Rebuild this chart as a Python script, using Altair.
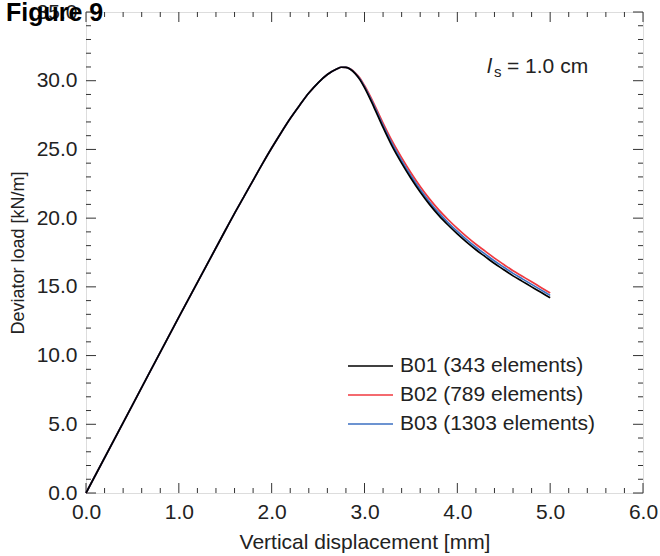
import altair as alt
import pandas as pd

# ---- data ----
x_disp = [0.0, 0.5, 1.0, 1.5, 1.6, 1.7, 1.8, 1.9, 2.0, 2.1, 2.2, 2.3, 2.4, 2.5, 2.6,
          2.7, 2.75, 2.8, 2.85, 2.9, 2.95, 3.0, 3.1, 3.2, 3.3, 3.4, 3.5, 3.6, 3.7, 3.8, 3.9, 4.0,
          4.1, 4.2, 4.3, 4.4, 4.5, 4.6, 4.7, 4.8, 4.9, 5.0]
b01 = [0.0, 6.4, 12.8, 19.1, 20.35, 21.55, 22.75, 23.95, 25.1, 26.2, 27.25, 28.2, 29.1,
       29.85, 30.45, 30.85, 30.98, 30.97, 30.82, 30.52, 30.08, 29.5, 28.1, 26.6, 25.2, 24.0, 22.9, 21.9,
       21.0, 20.2, 19.5, 18.85, 18.25, 17.7, 17.2, 16.7, 16.25, 15.8, 15.4, 15.0, 14.6, 14.2]
b02 = [0.0, 6.4, 12.8, 19.1, 20.35, 21.55, 22.75, 23.95, 25.1, 26.2, 27.25, 28.2, 29.1,
       29.85, 30.45, 30.85, 30.98, 30.97, 30.85, 30.58, 30.2, 29.65, 28.35, 26.92, 25.58, 24.4, 23.3, 22.3,
       21.4, 20.6, 19.9, 19.25, 18.65, 18.1, 17.6, 17.09, 16.63, 16.17, 15.77, 15.37, 14.96, 14.56]
b03 = [0.0, 6.4, 12.8, 19.1, 20.35, 21.55, 22.75, 23.95, 25.1, 26.2, 27.25, 28.2, 29.1,
       29.85, 30.45, 30.85, 30.98, 30.97, 30.83, 30.54, 30.13, 29.57, 28.22, 26.75, 25.38, 24.18, 23.08, 22.08,
       21.18, 20.38, 19.68, 19.03, 18.43, 17.88, 17.38, 16.88, 16.43, 15.98, 15.58, 15.18, 14.78, 14.38]

series_names = ["B01 (343 elements)", "B02 (789 elements)", "B03 (1303 elements)"]
series_colors = ["#000000", "#f0393f", "#3b6fc2"]

x_major = [0, 1, 2, 3, 4, 5, 6]
x_minor = [0.2, 0.4, 0.6, 0.8, 1.2, 1.4, 1.6, 1.8, 2.2, 2.4, 2.6, 2.8,
           3.2, 3.4, 3.6, 3.8, 4.2, 4.4, 4.6, 4.8, 5.2, 5.4, 5.6, 5.8]
y_major = [0, 5, 10, 15, 20, 25, 30, 35]
y_minor = [1, 2, 3, 4, 6, 7, 8, 9, 11, 12, 13, 14, 16, 17, 18, 19,
           21, 22, 23, 24, 26, 27, 28, 29, 31, 32, 33, 34]

W, H = 557, 481
FONT = "Liberation Sans"
AX = "#333333"
TXT = "#222222"

xs = alt.Scale(domain=[0, 6], nice=False, zero=False)
ys = alt.Scale(domain=[0, 35], nice=False, zero=False)
cs = alt.Scale(domain=series_names, range=series_colors)

xaxis = alt.Axis(values=x_major, format=".1f", title="Vertical displacement [mm]",
                 grid=False, domain=False, ticks=False, tickSize=0, labelPadding=8,
                 labelFlush=False, labelOverlap=False,
                 labelFontSize=21, labelFont=FONT, labelColor=TXT,
                 titleFontSize=21, titleFont=FONT, titleFontWeight="normal",
                 titleColor=TXT, titlePadding=9)
yaxis = alt.Axis(values=y_major, format=".1f", title="Deviator load [kN/m]",
                 grid=False, domain=False, ticks=False, tickSize=0, labelPadding=9,
                 labelFlush=False, labelOverlap=False,
                 labelFontSize=21, labelFont=FONT, labelColor=TXT,
                 titleFontSize=18, titleFont=FONT, titleFontWeight="normal",
                 titleColor=TXT, titlePadding=9)


def line_layer(vals, name):
    df = pd.DataFrame({"x": x_disp, "y": vals, "series": name})
    return alt.Chart(df).mark_line(interpolate="monotone", strokeWidth=1.7).encode(
        x=alt.X("x:Q", scale=xs, axis=xaxis),
        y=alt.Y("y:Q", scale=ys, axis=yaxis),
        color=alt.Color("series:N", scale=cs, legend=None),
    )


lines = [line_layer(b02, series_names[1]),
         line_layer(b03, series_names[2]),
         line_layer(b01, series_names[0])]


def xticks(vals, y0, y1):
    df = pd.DataFrame({"x": vals})
    return alt.Chart(df).mark_rule(color=AX, strokeWidth=1).encode(
        x=alt.X("x:Q", scale=xs, axis=xaxis), y=alt.value(y0), y2=alt.value(y1))


def yticks(vals, x0, x1):
    df = pd.DataFrame({"y": vals})
    return alt.Chart(df).mark_rule(color=AX, strokeWidth=1).encode(
        y=alt.Y("y:Q", scale=ys, axis=yaxis), x=alt.value(x0), x2=alt.value(x1))


MAJ, MIN = 10, 5
ticks = [
    xticks(x_major, H, H - MAJ), xticks(x_minor, H, H - MIN),
    xticks(x_major, 0, MAJ), xticks(x_minor, 0, MIN),
    yticks(y_major, 0, MAJ), yticks(y_minor, 0, MIN),
    yticks(y_major, W, W - MAJ), yticks(y_minor, W, W - MIN),
]

# custom legend (inside, lower right)
leg_df = pd.DataFrame({"series": series_names, "row": [0, 1, 2]})
leg_base = alt.Chart(leg_df).transform_calculate(py="354 + 29*datum.row")
leg_rule = leg_base.mark_rule(strokeWidth=1.7).encode(
    x=alt.value(262), x2=alt.value(307),
    y=alt.Y("py:Q", scale=None, axis=None),
    color=alt.Color("series:N", scale=cs, legend=None))
leg_text = leg_base.mark_text(align="left", baseline="middle", fontSize=21,
                              font=FONT, color=TXT).encode(
    x=alt.value(314), y=alt.Y("py:Q", scale=None, axis=None), text="series:N")

# annotation  l_s = 1.0 cm
ann_l = alt.Chart(pd.DataFrame({"t": ["l"]})).mark_text(
    align="left", baseline="alphabetic", fontSize=21, font=FONT, fontStyle="italic",
    color=TXT).encode(x=alt.value(401), y=alt.value(61), text="t:N")
ann_s = alt.Chart(pd.DataFrame({"t": ["s"]})).mark_text(
    align="left", baseline="alphabetic", fontSize=15, font=FONT,
    color=TXT).encode(x=alt.value(408), y=alt.value(65), text="t:N")
ann_r = alt.Chart(pd.DataFrame({"t": ["= 1.0 cm"]})).mark_text(
    align="left", baseline="alphabetic", fontSize=21, font=FONT,
    color=TXT).encode(x=alt.value(421), y=alt.value(61), text="t:N")

fig = alt.Chart(pd.DataFrame({"t": ["Figure 9"]})).mark_text(
    align="left", baseline="alphabetic", fontSize=25, font=FONT, fontWeight="bold",
    color="#000000").encode(x=alt.value(-80), y=alt.value(9), text="t:N")

chart = alt.layer(*ticks, *lines, leg_rule, leg_text, ann_l, ann_s, ann_r, fig).properties(
    width=W, height=H,
    autosize=alt.AutoSizeParams(type="none"),
    padding={"left": 86, "top": 12, "right": 17, "bottom": 63},
).configure_view(stroke=AX, strokeWidth=1.3).configure(background="white")

chart.save("out.html", embed_options={"renderer": "svg", "actions": False})
